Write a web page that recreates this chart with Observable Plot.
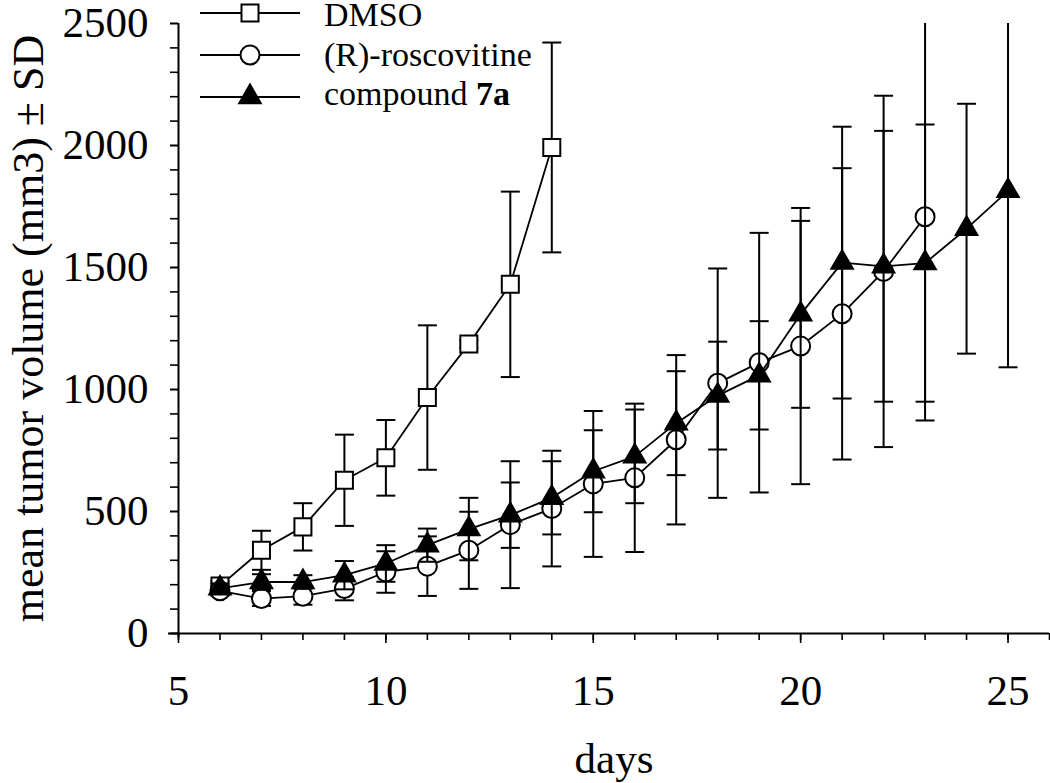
<!DOCTYPE html>
<html><head><meta charset="utf-8">
<script src="https://cdn.jsdelivr.net/npm/d3@7"></script>
<script src="https://cdn.jsdelivr.net/npm/@observablehq/plot@0.6"></script>
<style>
html,body{margin:0;padding:0;background:#fff;}
#wrap{position:relative;width:1050px;height:783px;}
#legend{position:absolute;left:0;top:0;pointer-events:none;}
</style></head><body><div id="wrap"></div>
<script>
const FONT = '"Liberation Serif","Times New Roman",Times,serif';

const seriesNames = ["DMSO", "(R)-roscovitine", "compound 7a"];

const dmsoDays = [6, 7, 8, 9, 10, 11, 12, 13, 14];
const dmsoMean = [195, 341, 437, 628, 720, 967, 1186, 1431, 1992];
const dmsoSD   = [20, 80, 97, 187, 155, 296, 15, 380, 430];

const roscoDays = [6, 7, 8, 9, 10, 11, 12, 13, 14, 15, 16, 17, 18, 19, 20, 21, 22, 23];
const roscoMean = [175, 143, 153, 184, 252, 276, 341, 446, 512, 613, 638, 794, 1026, 1110, 1178, 1310, 1484, 1708];
const roscoSD   = [20, 30, 35, 48, 85, 122, 158, 260, 237, 299, 304, 347, 470, 532, 566, 597, 720, 835];

const c7aDays = [6, 7, 8, 9, 10, 11, 12, 13, 14, 15, 16, 17, 18, 19, 20, 21, 22, 23, 24, 25];
const c7aMean = [185, 211, 211, 239, 287, 362, 428, 485, 556, 665, 726, 862, 975, 1058, 1308, 1520, 1505, 1518, 1659, 1814];
const c7aSD   = [20, 32, 28, 58, 75, 68, 128, 134, 150, 168, 192, 213, 221, 222, 383, 557, 555, 568, 512, 723];

const xMajorTicks = [5, 10, 15, 20, 25];
const xMinorTicks = [5, 6, 7, 8, 9, 10, 11, 12, 13, 14, 15, 16, 17, 18, 19, 20, 21, 22, 23, 24, 25, 26];
const yMajorTicks = [0, 500, 1000, 1500, 2000, 2500];
const yMinorTicks = [0, 100, 200, 300, 400, 500, 600, 700, 800, 900, 1000, 1100, 1200, 1300, 1400, 1500,
                     1600, 1700, 1800, 1900, 2000, 2100, 2200, 2300, 2400, 2500];

const xLabel = "days";
const yLabel = "mean tumor volume (mm3) ± SD";

function rows(name, days, mean, sd) {
  return days.map((d, i) => ({series: name, day: d, mean: mean[i], lo: mean[i] - sd[i], hi: mean[i] + sd[i]}));
}
const dmso = rows(seriesNames[0], dmsoDays, dmsoMean, dmsoSD);
const rosco = rows(seriesNames[1], roscoDays, roscoMean, roscoSD);
const c7a = rows(seriesNames[2], c7aDays, c7aMean, c7aSD);

// horizontal line symbol for error bar caps
const capSymbol = {
  draw(ctx, size) {
    const w = Math.sqrt(size / Math.PI);
    ctx.moveTo(-w, 0);
    ctx.lineTo(w, 0);
  }
};

function seriesMarks(data, symbol, r, fill) {
  return [
    Plot.line(data, {x: "day", y: "mean", stroke: "black", strokeWidth: 1.8}),
    Plot.ruleX(data, {x: "day", y1: "lo", y2: "hi", stroke: "black", strokeWidth: 2, clip: true}),
    Plot.dot(data, {x: "day", y: "lo", symbol: capSymbol, r: 9.5, stroke: "black", strokeWidth: 2, fill: "none", clip: true}),
    Plot.dot(data, {x: "day", y: "hi", symbol: capSymbol, r: 9.5, stroke: "black", strokeWidth: 2, fill: "none", clip: true}),
    Plot.dot(data, {x: "day", y: "mean", symbol, r, fill, stroke: "black", strokeWidth: 2})
  ];
}

const chart = Plot.plot({
  width: 1050,
  height: 783,
  marginLeft: 178,
  marginRight: 1,
  marginTop: 23,
  marginBottom: 150,
  style: {fontFamily: FONT, fontSize: "43px", background: "white", color: "black", overflow: "visible"},
  x: {domain: [5, 26]},
  y: {domain: [0, 2500]},
  marks: [
    Plot.axisX({ticks: xMinorTicks, tickSize: 7, tickFormat: () => "", label: null, strokeWidth: 1.6}),
    Plot.axisX({ticks: xMajorTicks, tickSize: 10, tickPadding: 31, fontSize: 43, label: null, strokeWidth: 1.6, tickFormat: d => String(d)}),
    Plot.axisY({ticks: yMinorTicks, tickSize: 8, tickFormat: () => "", label: null, strokeWidth: 1.6}),
    Plot.axisY({ticks: yMajorTicks, tickSize: 8, tickPadding: 22, fontSize: 43, label: null, strokeWidth: 1.6, tickFormat: d => String(d)}),
    Plot.ruleY([0], {stroke: "black", strokeWidth: 2, insetLeft: -10}),
    Plot.ruleX([5], {stroke: "black", strokeWidth: 2, insetBottom: -4}),
    Plot.text([xLabel], {frameAnchor: "bottom", dy: 139, lineAnchor: "bottom", textAnchor: "middle", fontSize: 43}),
    Plot.text([yLabel], {frameAnchor: "left", rotate: -90, dx: -136, lineAnchor: "bottom", textAnchor: "middle", fontSize: 44}),
    ...seriesMarks(dmso, "square", 9.6, "white"),
    ...seriesMarks(rosco, "circle", 9.5, "white"),
    ...seriesMarks(c7a, "triangle", 8, "black")
  ]
});
document.getElementById("wrap").appendChild(chart);

// legend overlay (top-left, inside plot area)
const legendItems = [
  {name: seriesNames[0], sym: d3.symbolSquare, size: 289, fill: "white", y: 13, ty: 26},
  {name: seriesNames[1], sym: d3.symbolCircle, size: 284, fill: "white", y: 55, ty: 66},
  {name: seriesNames[2], sym: d3.symbolTriangle, size: 201, fill: "black", y: 97, ty: 105}
];
const leg = d3.select("#wrap").append("svg")
  .attr("id", "legend").attr("width", 1050).attr("height", 130);
const g = leg.selectAll("g").data(legendItems).join("g");
g.append("line").attr("x1", 200).attr("x2", 300).attr("y1", d => d.y).attr("y2", d => d.y)
  .attr("stroke", "black").attr("stroke-width", 1.8);
g.append("path").attr("d", d => d3.symbol(d.sym, d.size)())
  .attr("transform", d => `translate(250,${d.y})`)
  .attr("fill", d => d.fill).attr("stroke", "black").attr("stroke-width", 2);
g.each(function(d) {
  const t = d3.select(this).append("text").attr("x", 324).attr("y", d.ty)
    .attr("font-family", FONT).attr("font-size", 34).attr("fill", "black");
  const m = d.name.match(/^(.*?)(7a)$/);
  if (m) {
    t.append("tspan").text(m[1]);
    t.append("tspan").attr("font-weight", "bold").text(m[2]);
  } else {
    t.text(d.name);
  }
});
</script></body></html>
